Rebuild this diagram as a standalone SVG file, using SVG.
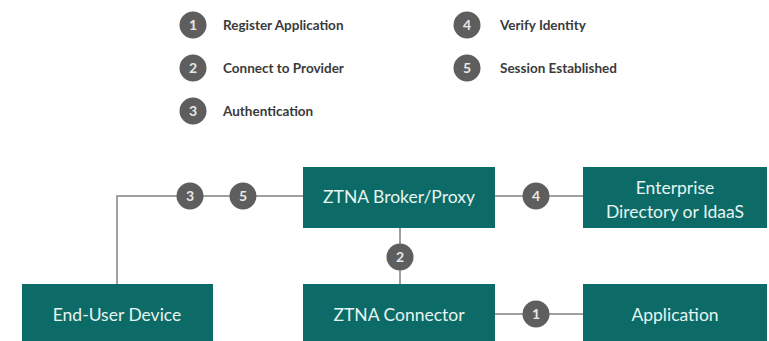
<svg xmlns="http://www.w3.org/2000/svg" width="769" height="341" viewBox="0 0 769 341">
<style>
.box{fill:#0c6b66}
.bt{font-family:Lato,"Open Sans",sans-serif;font-size:17.5px;fill:#e6f4f2;text-anchor:middle}
.c{fill:#5e5e5e}
.cn{font-family:Lato,"Open Sans",sans-serif;font-size:14px;font-weight:bold;fill:#e8e8e8;text-anchor:middle}
.lt{font-family:Lato,"Open Sans",sans-serif;font-size:13.5px;font-weight:bold;fill:#3a3a3a}
.ln{stroke:#a0a0a0;stroke-width:2;fill:none}
</style>
<rect width="769" height="341" fill="#ffffff"/>
<g id="legend">
<circle class="c" cx="193" cy="25" r="13.5"/><text class="cn" x="193" y="30">1</text><text class="lt" x="223" y="30">Register Application</text>
<circle class="c" cx="193" cy="68" r="13.5"/><text class="cn" x="193" y="73">2</text><text class="lt" x="223" y="73">Connect to Provider</text>
<circle class="c" cx="193" cy="111" r="13.5"/><text class="cn" x="193" y="116">3</text><text class="lt" x="223" y="116">Authentication</text>
<circle class="c" cx="467" cy="25" r="13.5"/><text class="cn" x="467" y="30">4</text><text class="lt" x="500" y="30">Verify Identity</text>
<circle class="c" cx="467" cy="68" r="13.5"/><text class="cn" x="467" y="73">5</text><text class="lt" x="500" y="73">Session Established</text>
</g>
<g id="connectors">
<polyline class="ln" points="117,284 117,196 303,196"/>
<line class="ln" x1="495" y1="196" x2="583" y2="196"/>
<line class="ln" x1="400" y1="228" x2="400" y2="284"/>
<line class="ln" x1="495" y1="314" x2="583" y2="314"/>
<circle class="c" cx="190" cy="196" r="13.5"/><text class="cn" x="190" y="201">3</text>
<circle class="c" cx="243" cy="196" r="13.5"/><text class="cn" x="243" y="201">5</text>
<circle class="c" cx="536" cy="196" r="13.5"/><text class="cn" x="536" y="201">4</text>
<circle class="c" cx="400" cy="257" r="13.5"/><text class="cn" x="400" y="262">2</text>
<circle class="c" cx="536" cy="314" r="13.5"/><text class="cn" x="536" y="319">1</text>
</g>
<g id="broker"><rect class="box" x="303" y="167" width="192" height="61"/><text class="bt" x="399" y="203">ZTNA Broker/Proxy</text></g>
<g id="directory"><rect class="box" x="583" y="167" width="184" height="61"/><text class="bt" x="675" y="194">Enterprise</text><text class="bt" x="675" y="218">Directory or IdaaS</text></g>
<g id="device"><rect class="box" x="22" y="284" width="191" height="57"/><text class="bt" x="117" y="321">End-User Device</text></g>
<g id="connector"><rect class="box" x="303" y="284" width="192" height="57"/><text class="bt" x="399" y="321">ZTNA Connector</text></g>
<g id="application"><rect class="box" x="583" y="284" width="184" height="57"/><text class="bt" x="675" y="321">Application</text></g>
</svg>
